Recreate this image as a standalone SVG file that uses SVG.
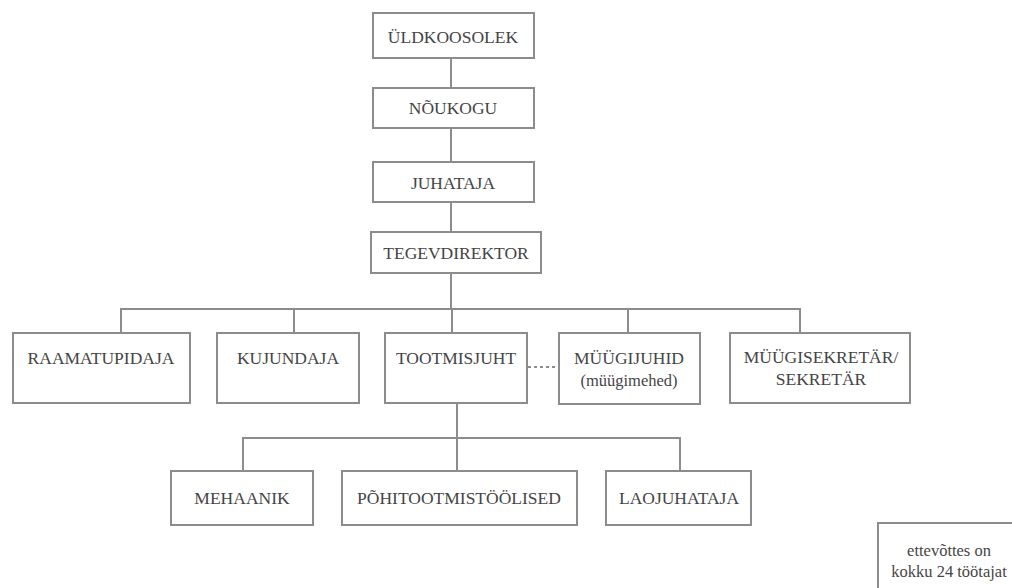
<svg xmlns="http://www.w3.org/2000/svg" width="1012" height="588" viewBox="0 0 1012 588">
  <style>
    .box { fill: #ffffff; stroke: #8c8c8c; stroke-width: 2; }
    .lbl { font-family: "Liberation Serif", "Times New Roman", serif; font-size: 17.5px; fill: #454545; text-anchor: middle; }
    .small { font-family: "Liberation Serif", "Times New Roman", serif; font-size: 16.5px; fill: #454545; text-anchor: middle; }
    .link { fill: none; stroke: #8c8c8c; stroke-width: 2; }
    .dots { fill: none; stroke: #8c8c8c; stroke-width: 2; stroke-dasharray: 3 3; }
  </style>
  <rect width="1012" height="588" fill="#ffffff"/>

  <!-- connectors -->
  <g id="connectors">
    <path class="link" d="M451 58 V88 M451 128 V162 M451 202 V232 M451 273 V309"/>
    <path class="link" d="M121 333 V309 H800 V333 M294 309 V333 M452 309 V333 M628 309 V333"/>
    <path class="link" d="M457 403 V471 M243 471 V438 H680 V471"/>
    <path class="dots" d="M528 367 H559"/>
  </g>

  <g id="uldkoosolek">
    <rect class="box" x="373" y="13" width="161" height="45"/>
    <text class="lbl" x="453" y="43">ÜLDKOOSOLEK</text>
  </g>
  <g id="noukogu">
    <rect class="box" x="373" y="88" width="161" height="40"/>
    <text class="lbl" x="453" y="114">NÕUKOGU</text>
  </g>
  <g id="juhataja">
    <rect class="box" x="373" y="162" width="161" height="40"/>
    <text class="lbl" x="453" y="189">JUHATAJA</text>
  </g>
  <g id="tegevdirektor">
    <rect class="box" x="371" y="232" width="170" height="41"/>
    <text class="lbl" x="456" y="259">TEGEVDIREKTOR</text>
  </g>

  <g id="raamatupidaja">
    <rect class="box" x="13" y="333" width="177" height="70"/>
    <text class="lbl" x="101" y="364">RAAMATUPIDAJA</text>
  </g>
  <g id="kujundaja">
    <rect class="box" x="217" y="333" width="142" height="70"/>
    <text class="lbl" x="288" y="364">KUJUNDAJA</text>
  </g>
  <g id="tootmisjuht">
    <rect class="box" x="385" y="333" width="142" height="70"/>
    <text class="lbl" x="456" y="364">TOOTMISJUHT</text>
  </g>
  <g id="muugijuhid">
    <rect class="box" x="559" y="333" width="141" height="71"/>
    <text class="lbl" x="629" y="364">MÜÜGIJUHID</text>
    <text class="small" x="629" y="386">(müügimehed)</text>
  </g>
  <g id="muugisekretar">
    <rect class="box" x="730" y="333" width="180" height="70"/>
    <text class="lbl" x="821" y="363">MÜÜGISEKRETÄR/</text>
    <text class="lbl" x="821" y="385">SEKRETÄR</text>
  </g>

  <g id="mehaanik">
    <rect class="box" x="171" y="471" width="142" height="54"/>
    <text class="lbl" x="242" y="504">MEHAANIK</text>
  </g>
  <g id="pohitootmistoolised">
    <rect class="box" x="342" y="471" width="235" height="54"/>
    <text class="lbl" x="459" y="504">PÕHITOOTMISTÖÖLISED</text>
  </g>
  <g id="laojuhataja">
    <rect class="box" x="606" y="471" width="145" height="54"/>
    <text class="lbl" x="679" y="504">LAOJUHATAJA</text>
  </g>

  <g id="note">
    <rect class="box" x="878" y="523" width="150" height="80"/>
    <text class="small" x="949" y="556">ettevõttes on</text>
    <text class="small" x="949" y="577">kokku 24 töötajat</text>
  </g>
</svg>
